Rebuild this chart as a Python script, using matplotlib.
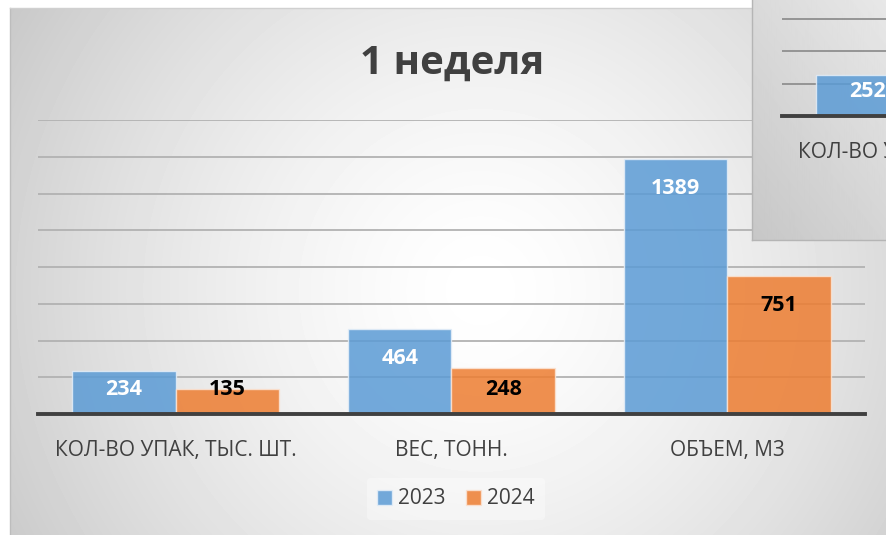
import numpy as np
import matplotlib
matplotlib.use("Agg")
import matplotlib.pyplot as plt

# -----------------------------
# Data
# -----------------------------
categories = ["КОЛ-ВО УПАК, ТЫС. ШТ.", "ВЕС, ТОНН.", "ОБЪЕМ, М3"]
values_2023 = [234, 464, 1389]
values_2024 = [135, 248, 751]
series_names = ["2023", "2024"]
title_text = "1 неделя"

# second (overlapping) chart, only partly visible in the corner
inset_categories = ["КОЛ-ВО УПАК, ТЫС. ШТ."]
inset_values_2023 = [252]

# -----------------------------
# Style
# -----------------------------
plt.rcParams["font.family"] = ["Open Sans", "DejaVu Sans"]
BLUE = "#5b9bd5"
ORANGE = "#ed7d31"
TEXT = "#404040"
GRID = "#b2b2b2"

W, H = 887, 535
fig = plt.figure(figsize=(W / 100, H / 100), dpi=100)


def fig_rect(x0, y0, x1, y1):
    # pixel box (top-left origin) -> figure fraction [left, bottom, width, height]
    return [x0 / W, 1 - y1 / H, (x1 - x0) / W, (y1 - y0) / H]


# -----------------------------
# Background: white page + radial grey gradient panel
# -----------------------------
bg = fig.add_axes([0, 0, 1, 1])
bg.set_xlim(0, W)
bg.set_ylim(H, 0)
bg.axis("off")

yy, xx = np.mgrid[0:H, 0:W]
d = np.hypot(xx - 480, yy - 290)
shade = 1 - 0.21 * np.clip(d / 542, 0, 1.2) ** 1.45
img = np.where((xx >= 10) & (yy >= 8), shade, 1.0)
bg.imshow(img, cmap="gray", vmin=0, vmax=1, extent=(0, W, H, 0),
          interpolation="bilinear", aspect="auto")
bg.plot([10, 10], [8, H], color="#bdbdbd", lw=1)
bg.plot([10, W], [8, 8], color="#d0d0d0", lw=1)

# -----------------------------
# Main chart
# -----------------------------
ax = fig.add_axes(fig_rect(38, 120, 865, 414))
ax.patch.set_alpha(0)
x = np.arange(len(categories))
bw = 0.375
b1 = ax.bar(x - bw / 2, values_2023, bw, color=BLUE, alpha=0.85,
            edgecolor="#e4eef8", linewidth=1, label=series_names[0], zorder=3)
b2 = ax.bar(x + bw / 2, values_2024, bw, color=ORANGE, alpha=0.85,
            edgecolor="#fbe3d3", linewidth=1, label=series_names[1], zorder=3)

ax.set_xlim(-0.5, len(categories) - 0.5)
ax.set_ylim(0, 1600)
ax.set_yticks(range(0, 1601, 200))
ax.yaxis.grid(True, color=GRID, lw=1.3, zorder=1)
ax.set_axisbelow(True)
ax.tick_params(axis="y", left=False, labelleft=False)
ax.tick_params(axis="x", length=0, pad=19, labelsize=15, labelcolor=TEXT)
ax.set_xticks(x)
ax.set_xticklabels(categories)
for s in ax.spines.values():
    s.set_visible(False)
ax.axhline(0, color=TEXT, lw=2.8, zorder=4, clip_on=False)


def label_bars(a, bars, vals, color, px_per_unit):
    # inside-end labels, kept above the baseline for short bars
    floor = 54 / px_per_unit
    for r, v in zip(bars, vals):
        a.annotate(str(v), (r.get_x() + r.get_width() / 2, max(v, floor)),
                   xytext=(0, -21.5), textcoords="offset points",
                   ha="center", va="center", fontsize=15.5,
                   fontweight="bold", color=color, zorder=5)


scale_main = 294 / 1600
label_bars(ax, b1, values_2023, "white", scale_main)
label_bars(ax, b2, values_2024, "black", scale_main)

leg = fig.legend(loc="center", bbox_to_anchor=(456 / W, 1 - 499 / H),
                 ncol=2, fontsize=15, frameon=True, handlelength=0.7,
                 handleheight=0.7, handletextpad=0.3, columnspacing=1.0,
                 borderpad=0.5)
leg.get_frame().set_facecolor("white")
leg.get_frame().set_alpha(0.35)
leg.get_frame().set_edgecolor("none")
for t in leg.get_texts():
    t.set_color(TEXT)

fig.text(452 / W, 1 - 63 / H, title_text, ha="center", va="center",
         fontsize=29, fontweight="bold", color=TEXT)

# -----------------------------
# Overlapping second chart (top-right corner)
# -----------------------------
panel = fig.add_axes(fig_rect(752, -2, 900, 240))
panel.set_zorder(5)
py, px = np.mgrid[0:242, 0:148]
pshade = 0.855 + 0.055 * px / 135 - 0.075 * py / 240
panel.imshow(pshade, cmap="gray", vmin=0, vmax=1, aspect="auto",
             interpolation="bilinear")
panel.set_xticks([])
panel.set_yticks([])
for s in panel.spines.values():
    s.set_color("#b5b5b5")
    s.set_linewidth(1)

iax = fig.add_axes(fig_rect(782, 0, 782 + 274 * 3, 116))
iax.set_zorder(6)
iax.patch.set_alpha(0)
ix = np.arange(len(inset_categories))
ib = iax.bar(ix - bw / 2, inset_values_2023, bw, color=BLUE, alpha=0.85,
             edgecolor="#e4eef8", linewidth=1, zorder=3)
iax.set_xlim(-0.5, 2.5)
scale_inset = 0.1615
iax.set_ylim(0, 116 / scale_inset)
iax.set_yticks([0, 200, 400, 600])
iax.yaxis.grid(True, color="#8f8f8f", lw=1.3, zorder=1)
iax.set_axisbelow(True)
iax.tick_params(axis="y", left=False, labelleft=False)
iax.tick_params(axis="x", length=0, pad=19, labelsize=15, labelcolor=TEXT)
iax.set_xticks(ix)
iax.set_xticklabels(inset_categories)
for s in iax.spines.values():
    s.set_visible(False)
iax.axhline(0, color=TEXT, lw=2.8, zorder=4, clip_on=False)
label_bars(iax, ib, inset_values_2023, "white", scale_inset)

fig.savefig("out.png", dpi=100)
